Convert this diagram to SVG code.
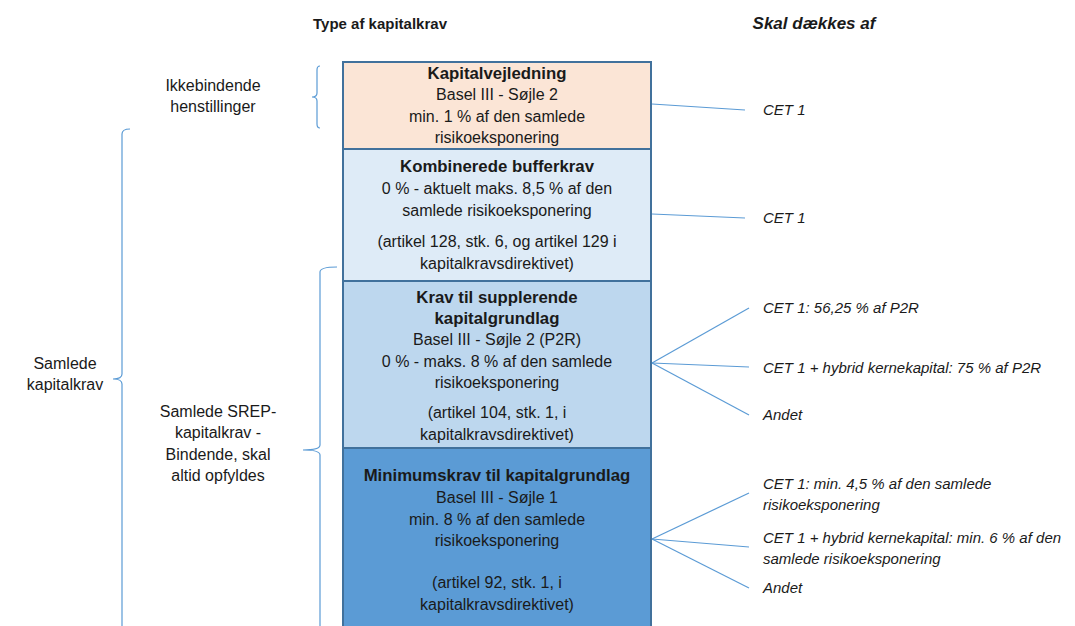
<svg xmlns="http://www.w3.org/2000/svg" width="1075" height="626" viewBox="0 0 1075 626">
<style>
text{font-family:"Liberation Sans",Arial,sans-serif;font-size:16px;fill:#1a1a1a}
.c{text-anchor:middle}
.b{font-weight:bold;font-size:16.8px}
.h{font-weight:bold;font-size:15px}
.hi{font-weight:bold;font-style:italic;font-size:17px}
.i{font-style:italic;font-size:15px}
.box{stroke:#41719C;stroke-width:2}
.ln{stroke:#5B9BD5;stroke-width:1.2;fill:none}
</style>
<rect width="1075" height="626" fill="#fff"/>
<g id="headers">
<text class="c h" x="380" y="29">Type af kapitalkrav</text>
<text class="c hi" x="814" y="29">Skal dækkes af</text>
</g>
<g id="labels-left">
<text class="c" x="213" y="91">Ikkebindende</text>
<text class="c" x="213" y="112">henstillinger</text>
<text class="c" x="65" y="369">Samlede</text>
<text class="c" x="65" y="390">kapitalkrav</text>
<text class="c" x="218" y="417">Samlede SREP-</text>
<text class="c" x="218" y="438">kapitalkrav -</text>
<text class="c" x="218" y="460">Bindende, skal</text>
<text class="c" x="218" y="481">altid opfyldes</text>
</g>
<g id="braces">
<path class="ln" d="M320,66 Q317,66 317,70 L317,93 Q317,97 312,97 Q317,97 317,101 L317,124 Q317,128 320,128"/>
<path class="ln" d="M130,129 Q122,129 122,134 L122,374 Q122,379 113,379 Q122,379 122,384 L122,640"/>
<path class="ln" d="M337,267 Q320,267 320,272 L320,445 Q320,450 303,450 Q320,450 320,455 L320,640"/>
</g>
<g id="node-kapitalvejledning">
<rect class="box" x="343" y="62" width="308" height="87" fill="#FBE5D6"/>
<text class="c b" x="497" y="79">Kapitalvejledning</text>
<text class="c" x="497" y="100">Basel III - Søjle 2</text>
<text class="c" x="497" y="122">min. 1 % af den samlede</text>
<text class="c" x="497" y="143">risikoeksponering</text>
</g>
<g id="node-bufferkrav">
<rect class="box" x="343" y="149" width="308" height="132" fill="#DEEBF7"/>
<text class="c b" x="497" y="172">Kombinerede bufferkrav</text>
<text class="c" x="497" y="194">0 % - aktuelt maks. 8,5 % af den</text>
<text class="c" x="497" y="216">samlede risikoeksponering</text>
<text class="c" x="497" y="247">(artikel 128, stk. 6, og artikel 129 i</text>
<text class="c" x="497" y="269">kapitalkravsdirektivet)</text>
</g>
<g id="node-p2r">
<rect class="box" x="343" y="281" width="308" height="167" fill="#BDD7EE"/>
<text class="c b" x="497" y="303">Krav til supplerende</text>
<text class="c b" x="497" y="324">kapitalgrundlag</text>
<text class="c" x="497" y="345">Basel III - Søjle 2 (P2R)</text>
<text class="c" x="497" y="367">0 % - maks. 8 % af den samlede</text>
<text class="c" x="497" y="388">risikoeksponering</text>
<text class="c" x="497" y="418">(artikel 104, stk. 1, i</text>
<text class="c" x="497" y="440">kapitalkravsdirektivet)</text>
</g>
<g id="node-minimumskrav">
<rect class="box" x="343" y="448" width="308" height="190" fill="#5B9BD5"/>
<text class="c b" x="497" y="481">Minimumskrav til kapitalgrundlag</text>
<text class="c" x="497" y="503">Basel III - Søjle 1</text>
<text class="c" x="497" y="525">min. 8 % af den samlede</text>
<text class="c" x="497" y="546">risikoeksponering</text>
<text class="c" x="497" y="588">(artikel 92, stk. 1, i</text>
<text class="c" x="497" y="610">kapitalkravsdirektivet)</text>
</g>
<g id="connectors">
<line class="ln" x1="652" y1="104" x2="745" y2="110"/>
<line class="ln" x1="652" y1="214" x2="745" y2="218"/>
<line class="ln" x1="652" y1="363" x2="749" y2="308"/>
<line class="ln" x1="652" y1="363" x2="749" y2="367"/>
<line class="ln" x1="652" y1="363" x2="749" y2="415"/>
<line class="ln" x1="652" y1="539" x2="749" y2="493"/>
<line class="ln" x1="652" y1="539" x2="749" y2="547"/>
<line class="ln" x1="652" y1="539" x2="749" y2="588"/>
</g>
<g id="targets">
<text class="i" x="763" y="115">CET 1</text>
<text class="i" x="763" y="223">CET 1</text>
<text class="i" x="763" y="313">CET 1: 56,25 % af P2R</text>
<text class="i" x="763" y="373">CET 1 + hybrid kernekapital: 75 % af P2R</text>
<text class="i" x="763" y="420">Andet</text>
<text class="i" x="763" y="489">CET 1: min. 4,5 % af den samlede</text>
<text class="i" x="763" y="510">risikoeksponering</text>
<text class="i" x="763" y="543">CET 1 + hybrid kernekapital: min. 6 % af den</text>
<text class="i" x="763" y="564">samlede risikoeksponering</text>
<text class="i" x="763" y="593">Andet</text>
</g>
</svg>
